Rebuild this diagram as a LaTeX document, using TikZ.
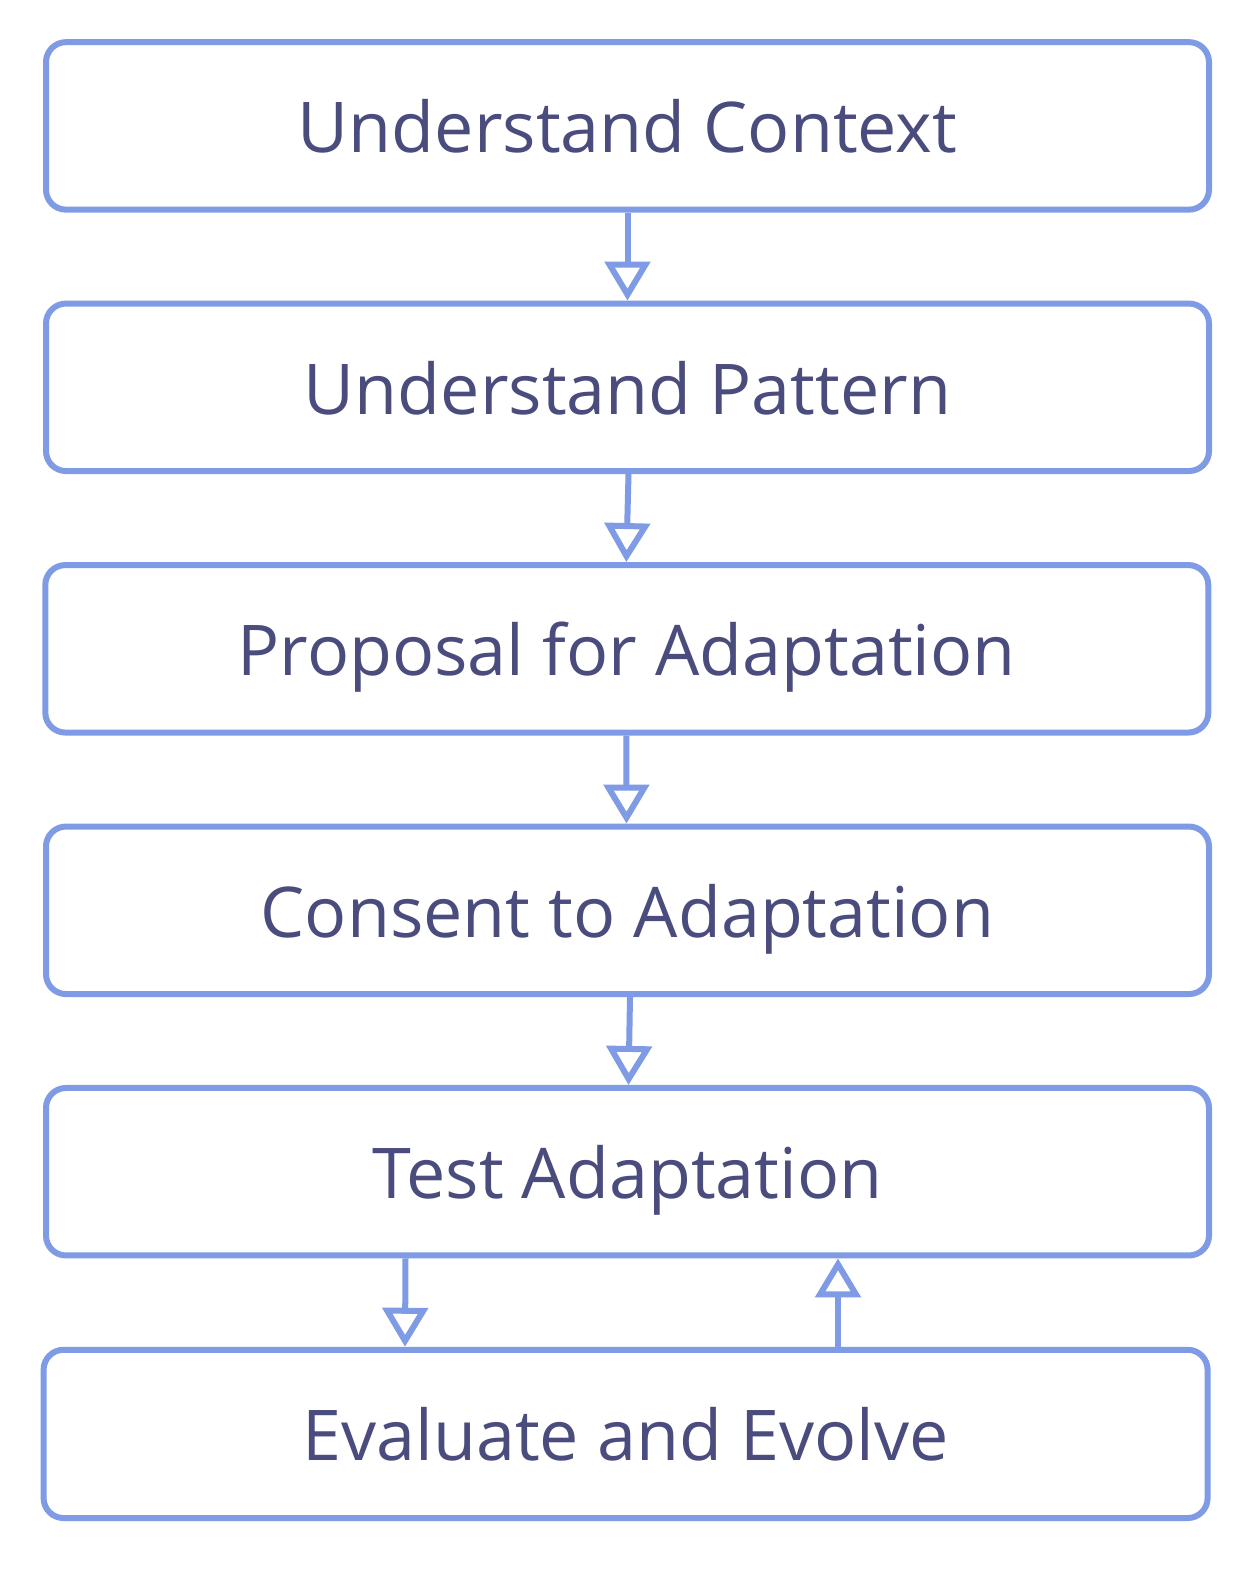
\documentclass[tikz,border=0pt]{standalone}
\usepackage{fontspec}
\setmainfont{Open Sans}
\usetikzlibrary{arrows.meta}
\definecolor{edgeblue}{HTML}{7F9BE5}
\definecolor{textblue}{HTML}{4B4C7E}
\begin{document}
\begin{tikzpicture}[x=1pt,y=-1pt,
  stepbox/.style={draw=edgeblue, line width=6pt, rounded corners=20pt, fill=white,
    minimum width=1163pt, minimum height=167.5pt, inner sep=0pt,
    text=textblue, font=\fontsize{70}{80}\selectfont, text height=53.7pt, text depth=0pt},
  flow/.style={draw=edgeblue, line width=6pt,
    -{Triangle[open, length=39pt, width=45pt, line width=6pt]}}]
\useasboundingbox[fill=white] (0,0) rectangle (1240,1580);
\node[stepbox] (b1) at (627.5,125.9) {Understand Context};
\node[stepbox] (b2) at (627.5,387.3) {Understand Pattern};
\node[stepbox] (b3) at (626.8,648.8) {Proposal for Adaptation};
\node[stepbox] (b4) at (627.5,910.3) {Consent to Adaptation};
\node[stepbox] (b5) at (627.5,1171.7) {Test Adaptation};
\node[stepbox, minimum width=1164pt, minimum height=168.3pt] (b6) at (625.6,1433.9) {Evaluate and Evolve};
\draw[flow] (b1.south) -- (b2.north);
\draw[flow] ([xshift=1pt]b2.south) -- ([xshift=-0.5pt]b3.north);
\draw[flow] ([xshift=-0.5pt]b3.south) -- ([xshift=-1pt]b4.north);
\draw[flow] ([xshift=2.5pt]b4.south) -- ([xshift=1pt]b5.north);
\draw[flow] ([xshift=-222pt]b5.south) -- ([xshift=-220.6pt]b6.north);
\draw[flow] ([xshift=212.4pt]b6.north) -- ([xshift=210.5pt]b5.south);
\end{tikzpicture}
\end{document}
